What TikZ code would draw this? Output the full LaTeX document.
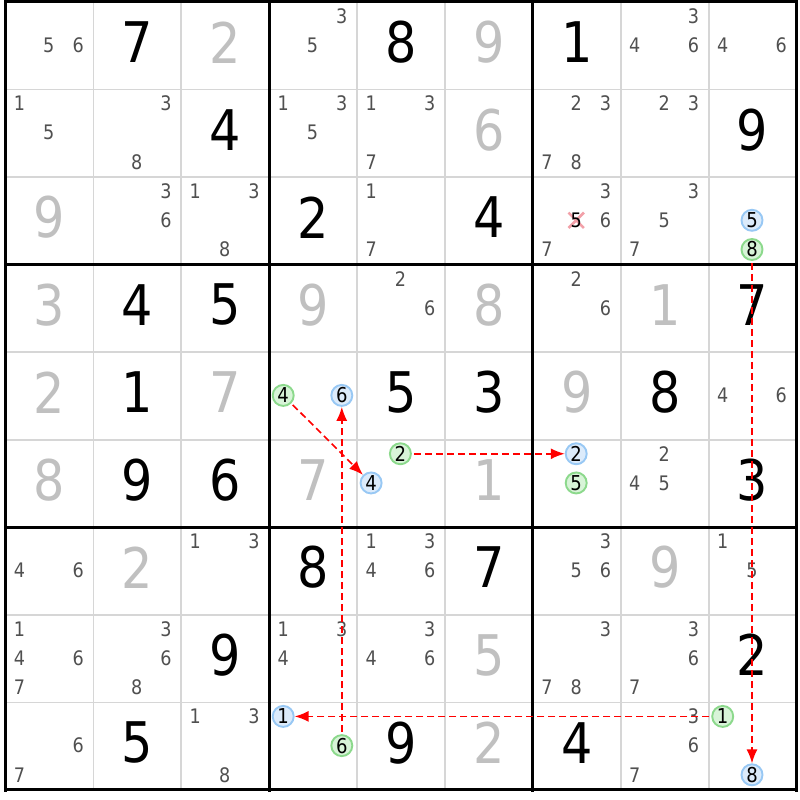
\documentclass[tikz,border=0pt]{standalone}
\usepackage{fontspec}
\setmainfont{DejaVu Sans}
\newfontfamily\digfont[FakeStretch=0.88]{DejaVu Sans}
\usetikzlibrary{arrows.meta}
\definecolor{solvedgray}{HTML}{C0C0C0}
\definecolor{candgray}{HTML}{505050}
\definecolor{gridgray}{HTML}{D6D6D6}
\definecolor{bluestroke}{HTML}{98C8F4}
\definecolor{bluefill}{HTML}{DCEBFB}
\definecolor{greenstroke}{HTML}{8CD98C}
\definecolor{greenfill}{HTML}{D8F4D8}
\definecolor{crosspink}{HTML}{F2A0A8}
\definecolor{linkred}{HTML}{FF0000}
\newcommand\putcand[6]{%
  \pgfmathsetmacro\candX{5.5+(#3-1)*87.9+14+mod(#4-1,3)*29.3}%
  \pgfmathsetmacro\candY{2+(#2-1)*87.55+14+int((#4-1)/3)*29.2}%
  \node[#5] (#1) at (\candX,\candY) {#6};}
\begin{document}
\begin{tikzpicture}[x=1pt,y=-1pt,
  given/.style={font=\digfont\fontsize{56}{56}\selectfont, text=black, inner sep=0pt},
  solved/.style={given, text=solvedgray},
  cand/.style={font=\digfont\fontsize{20}{20}\selectfont, text=candgray, inner sep=0pt},
  markc/.style={circle, inner sep=0pt, minimum size=21pt, line width=1.9pt,
    font=\digfont\fontsize{20.5}{20.5}\selectfont, text=black},
  bluec/.style={markc, draw=bluestroke, fill=bluefill},
  greenc/.style={markc, draw=greenstroke, fill=greenfill},
  thingrid/.style={draw=gridgray, line width=1.8pt},
  thickgrid/.style={draw=black, line width=3pt, line cap=rect},
  link/.style={color=linkred, line width=1.6pt, dash pattern=on 7pt off 4pt,
    -{Latex[length=14pt,width=11pt]}, shorten <=2pt},
  crossx/.style={draw=crosspink, line width=2.6pt}]
\fill[white] (0,0) rectangle (800,800);
\useasboundingbox (0,0) rectangle (800,800);
% thin grid lines
\foreach \i in {1,2,4,5,7,8} {
  \draw[thingrid] ({5.5+\i*87.9},2) -- ({5.5+\i*87.9},790);
  \draw[thingrid] (5.5,{2+\i*87.55}) -- (796.6,{2+\i*87.55});
}
% thick grid lines
\foreach \i in {0,3,6,9} {
  \draw[thickgrid] ({5.5+\i*87.9},2) -- ({5.5+\i*87.9},790);
  \draw[thickgrid] (5.5,{2+\i*87.55}) -- (796.6,{2+\i*87.55});
}
% given digits
\foreach \r/\c/\d in {1/2/7,1/5/8,1/7/1,2/3/4,2/9/9,3/4/2,3/6/4,4/2/4,4/3/5,4/9/7,
  5/2/1,5/5/5,5/6/3,5/8/8,6/2/9,6/3/6,6/9/3,7/4/8,7/6/7,8/3/9,8/9/2,9/2/5,9/5/9,9/7/4}
  \node[given] (d\r\c) at ({5.5+(\c-0.5)*87.9},{2+(\r-0.5)*87.55-3.5}) {\d};
% solved digits
\foreach \r/\c/\d in {1/3/2,1/6/9,2/6/6,3/1/9,4/1/3,4/4/9,4/6/8,4/8/1,5/1/2,5/3/7,5/7/9,
  6/1/8,6/4/7,6/6/1,7/2/2,7/8/9,8/6/5,9/6/2}
  \node[solved] (d\r\c) at ({5.5+(\c-0.5)*87.9},{2+(\r-0.5)*87.55-3.5}) {\d};
% candidates
\foreach \r/\c/\L in {1/1/{5,6},1/4/{3,5},1/8/{3,4,6},1/9/{4,6},
  2/1/{1,5},2/2/{3,8},2/4/{1,3,5},2/5/{1,3,7},2/7/{2,3,7,8},2/8/{2,3},
  3/2/{3,6},3/3/{1,3,8},3/5/{1,7},3/7/{3,6,7},3/8/{3,5,7},
  4/5/{2,6},4/7/{2,6},5/9/{4,6},6/8/{2,4,5},
  7/1/{4,6},7/3/{1,3},7/5/{1,3,4,6},7/7/{3,5,6},7/9/{1,5},
  8/1/{1,4,6,7},8/2/{3,6,8},8/4/{1,3,4},8/5/{3,4,6},8/7/{3,7,8},8/8/{3,6,7},
  9/1/{6,7},9/3/{1,3,8},9/8/{3,6,7}}
  \foreach \k in \L { \putcand{c\r\c\k}{\r}{\c}{\k}{cand}{\k} }
% eliminated candidate
\putcand{x375}{3}{7}{5}{inner sep=0pt, minimum size=15pt}{}
\draw[crossx] (x375.north west) -- (x375.south east);
\draw[crossx] (x375.north east) -- (x375.south west);
\putcand{c375}{3}{7}{5}{cand, text=black}{5}
% chain candidates
\putcand{n39b5}{3}{9}{5}{bluec}{5}
\putcand{n39g8}{3}{9}{8}{greenc}{8}
\putcand{n54g4}{5}{4}{4}{greenc}{4}
\putcand{n54b6}{5}{4}{6}{bluec}{6}
\putcand{n65g2}{6}{5}{2}{greenc}{2}
\putcand{n65b4}{6}{5}{4}{bluec}{4}
\putcand{n67b2}{6}{7}{2}{bluec}{2}
\putcand{n67g5}{6}{7}{5}{greenc}{5}
\putcand{n94b1}{9}{4}{1}{bluec}{1}
\putcand{n94g6}{9}{4}{6}{greenc}{6}
\putcand{n99g1}{9}{9}{1}{greenc}{1}
\putcand{n99b8}{9}{9}{8}{bluec}{8}
% links
\draw[link] (n54g4) -- (n65b4);
\draw[link] (n65g2) -- (n67b2);
\draw[link] (n39g8) -- (n99b8);
\draw[link] (n99g1) -- (n94b1);
\draw[link] (n94g6) -- (n54b6);
\end{tikzpicture}
\end{document}
